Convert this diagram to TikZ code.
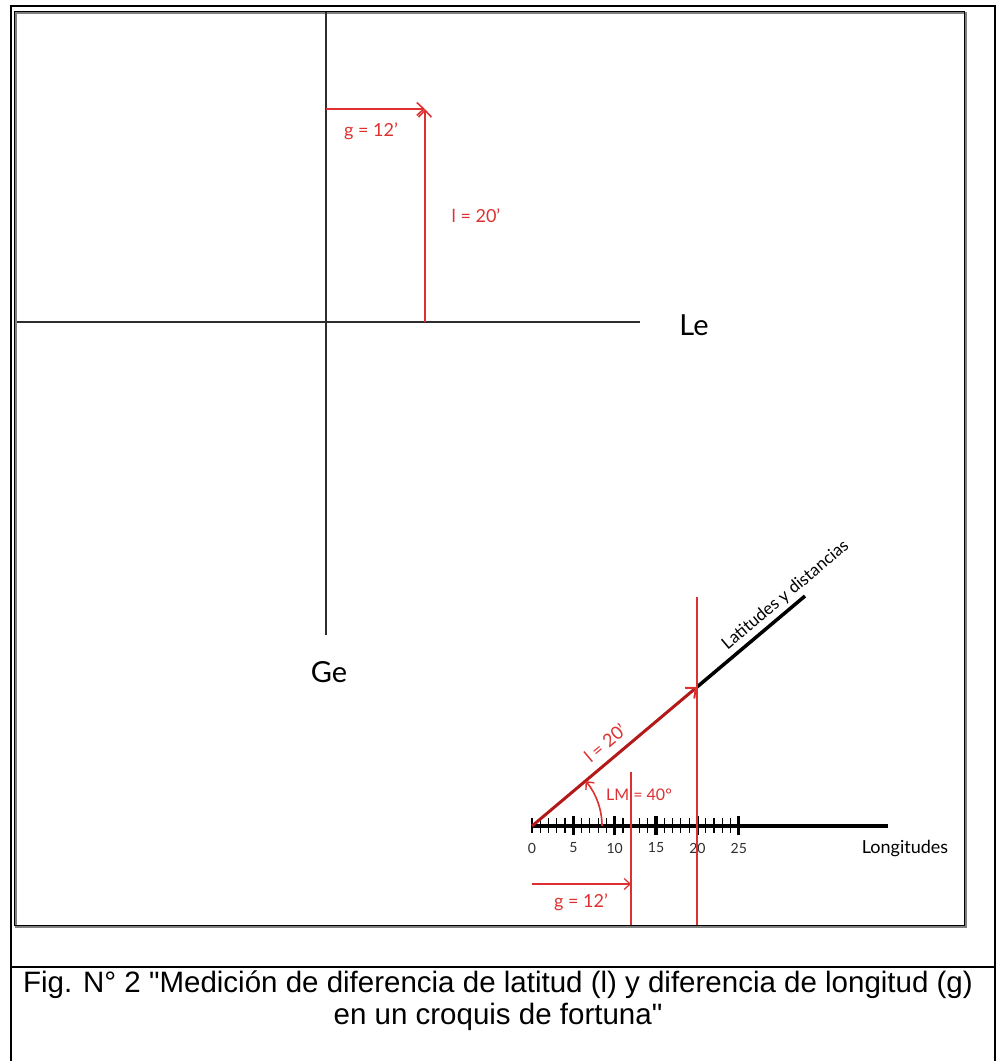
\documentclass[tikz,border=0pt]{standalone}
\usepackage{fontspec}
\setmainfont{Lato}
\newfontfamily\capfont{Liberation Sans}
\usetikzlibrary{arrows.meta}
\definecolor{axisgray}{RGB}{45,45,45}
\definecolor{lred}{RGB}{222,48,48}
\definecolor{dred}{RGB}{180,25,25}
\newcommand\unitpx{8.27}

\begin{document}
\begin{tikzpicture}[x=1pt, y=-1pt,
  axis/.style={draw=axisgray, line width=2pt},
  redline/.style={draw=lred, line width=1.6pt},
  barb/.style={-{Straight Barb[length=7pt, width=13pt, line width=1.6pt]}},
  redlbl/.style={text=lred, font=\fontsize{18}{21}\selectfont, inner sep=1pt},
  biglbl/.style={font=\fontsize{29}{32}\selectfont, inner sep=1pt},
  scalelbl/.style={font=\fontsize{14}{16}\selectfont, text=axisgray, inner sep=1pt}]
\useasboundingbox (0,0) rectangle (997,1061);
% frames
\draw[line width=1.6pt] (11,1061) -- (11,6) -- (995,6) -- (995,1061);
\draw[line width=1.6pt] (11,967) -- (995,967);
\draw[gray, line width=1.2pt] (16,13) rectangle (966,927);
\draw[line width=1pt] (14,11) rectangle (964,925);
% axes
\coordinate (n) at (326,12); \coordinate (s) at (326,635);
\coordinate (w) at (17,322); \coordinate (e) at (640,322);
\node[biglbl] (le) at (694,325) {Le};
\node[biglbl] (ge) at (329,672) {Ge};
\draw[axis] (n) -- (s);
\draw[axis] (w) -- (e);
\coordinate (o) at (326,109); \coordinate (p) at (425,109); \coordinate (q) at (425,322);
\draw[redline, barb] (o) -- (p);
\draw[redline, barb] (q) -- (p);
\node[redlbl] (g1) at (371,131) {g = 12'};
\node[redlbl] (l1) at (476,216) {l = 20'};
% scale
\coordinate (O) at (532,826); \coordinate (X) at (888,826);
\coordinate (T) at (697,687); \coordinate (E) at (805,596);
\foreach \i in {0,...,25}{
  \pgfmathsetmacro\xi{532+\i*\unitpx}
  \pgfmathtruncatemacro\md{mod(\i,5)}
  \ifnum\md=0 \ifnum\i>0
    \draw[line width=3.4pt] (\xi,816) -- (\xi,835);
  \else
    \draw[line width=1.2pt] (\xi,818) -- (\xi,833);
  \fi\else
    \draw[line width=1.2pt] (\xi,818) -- (\xi,833);
  \fi}
\foreach \i in {0,5,...,25}
  \node[scalelbl] (n\i) at (532+\i*\unitpx,848) {\i};
\draw[line width=3.5pt] (O) -- (X);
\node[font=\fontsize{18}{21}\selectfont, inner sep=1pt] (lon) at (905,849) {Longitudes};
\draw[line width=3.5pt] (T) -- (E);
\node[rotate=40, anchor=south, inner sep=2pt, font=\fontsize{17}{19}\selectfont] (lat) at (792,603) {Latitudes y distancias};
\draw[draw=dred, line width=3pt, -{Straight Barb[length=8pt, width=14pt, line width=2pt, color=lred]}] (O) -- (T);
\node[redlbl, rotate=40] (l2) at (605,743) {l = 20'};
\draw[redline, -{Straight Barb[length=6pt, width=11pt, line width=1.4pt]}] (602,826) arc[start angle=0, end angle=-40, radius=70];
\node[redlbl, font=\fontsize{16}{18}\selectfont] (lm) at (639,795) {LM = 40°};
\coordinate (v1) at (697,597); \coordinate (v1b) at (697,925);
\coordinate (v2) at (631,772); \coordinate (v2b) at (631,925);
\draw[redline] (v1) -- (v1b);
\draw[redline] (v2) -- (v2b);
\coordinate (go) at (532,884); \coordinate (gp) at (631,884);
\draw[redline, line width=1.2pt, -{Straight Barb[length=6pt, width=11pt, line width=1.2pt]}] (go) -- (gp);
\node[redlbl] (g2) at (581,902) {g = 12'};
% caption
\node[font=\capfont\fontsize{29.5}{32}\selectfont, align=center] (cap) at (498,1001)
  {Fig. N° 2 "Medición de diferencia de latitud (l) y diferencia de longitud (g)\\en un croquis de fortuna"};
\end{tikzpicture}
\end{document}
